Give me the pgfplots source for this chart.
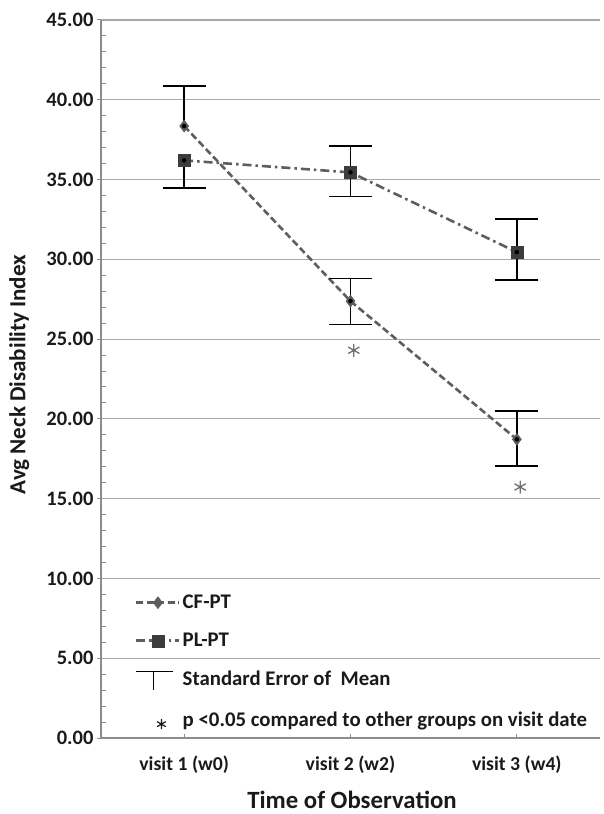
\documentclass[border=0pt]{standalone}
\usepackage{pgfplots}
\pgfplotsset{compat=1.18}
\usepackage{fontspec}
\setmainfont{Carlito}
\definecolor{linegray}{HTML}{5E5E5E}
\definecolor{markgray}{HTML}{5C5C5C}
\definecolor{sqgray}{HTML}{3C3C3C}
\definecolor{gridgray}{HTML}{A8A8A8}
\definecolor{axisgray}{HTML}{8C8C8C}
\definecolor{stargray}{HTML}{707070}
\definecolor{textblack}{HTML}{1A1A1A}
\begin{document}
\begin{tikzpicture}
\useasboundingbox (-101bp,-76bp) rectangle (503bp,738bp);
\begin{axis}[
  at={(0,0)}, anchor=south west,
  scale only axis, width=499bp, height=718bp,
  xmin=-0.5, xmax=2.5, ymin=0, ymax=45,
  xtick={0,1,2},
  xticklabels={visit 1 (w0), visit 2 (w2), visit 3 (w4)},
  ytick={0,5,10,15,20,25,30,35,40,45},
  yticklabels={0.00,5.00,10.00,15.00,20.00,25.00,30.00,35.00,40.00,45.00},
  minor y tick num=4,
  ymajorgrids, major grid style={gridgray, line width=1.2bp},
  axis lines=left, axis line style={-, axisgray, line width=1.2bp},
  tick style={axisgray, line width=1bp},
  tick align=outside, major tick length=4bp, minor tick length=5bp,
  minor y tick style={xshift=5bp},
  x tick style={yshift=4bp},
  yticklabel style={font=\bfseries\fontsize{20.5bp}{20.5bp}\selectfont, text=textblack},
  xticklabel style={font=\bfseries\fontsize{19.7bp}{19.7bp}\selectfont, text=textblack, anchor=center, yshift=-23bp},
  ylabel={Avg Neck Disability Index},
  ylabel style={font=\bfseries\fontsize{23bp}{23bp}\selectfont, text=textblack, at={(axis description cs:-0.164,0.506)}, anchor=center},
  xlabel={Time of Observation},
  xlabel style={font=\bfseries\fontsize{24.8bp}{24.8bp}\selectfont, text=textblack, at={(axis description cs:0.503,-0.0864)}, anchor=center},
  legend style={at={(axis description cs:0.068,0.202)}, anchor=north west, draw=none, fill=none,
    font=\bfseries\fontsize{20.8bp}{20.8bp}\selectfont, text=textblack, row sep=19bp, inner sep=0pt,
    nodes={inner sep=2bp}},
  legend cell align=left,
  legend image code/.code={\draw[mark repeat=2,mark phase=2,#1] plot coordinates {(0bp,0bp) (21.5bp,0bp) (43bp,0bp)};},
]
% CF-PT
\addplot[linegray, line width=2.6bp, dash pattern=on 7bp off 3.5bp,
  mark=diamond*, mark size=6bp, mark options={solid, fill=markgray, draw=markgray, line width=0.5bp}]
  coordinates {(0,38.35) (1,27.38) (2,18.72)};
\addlegendentry{CF-PT}
% PL-PT
\addplot[linegray, line width=2.6bp, dash pattern=on 9bp off 4bp on 2.5bp off 4bp,
  mark=square*, mark size=6bp, mark options={solid, fill=sqgray, draw=sqgray, line width=0.5bp}]
  coordinates {(0,36.20) (1,35.45) (2,30.45)};
\addlegendentry{PL-PT}
% error bars (standard error of mean)
\addplot[forget plot, only marks, mark=none, black,
  error bars/.cd, y dir=both, y explicit,
  error bar style={draw=black, solid, line width=1.6bp},
  error mark options={rotate=90, draw=black, solid, line width=1.6bp, mark size=21.5bp}]
  coordinates {(1,27.38) += (0,1.42) -= (0,1.46)
               (2,18.72) += (0,1.78) -= (0,1.68)
               (1,35.45) += (0,1.65) -= (0,1.51)
               (2,30.45) += (0,2.07) -= (0,1.75)};
\addplot[forget plot, only marks, mark=none, black,
  error bars/.cd, y dir=plus, y explicit,
  error bar style={draw=black, solid, line width=1.6bp},
  error mark options={rotate=90, draw=black, solid, line width=1.6bp, mark size=21.5bp}]
  coordinates {(0,38.35) += (0,2.50) -= (0,0)};
\addplot[forget plot, only marks, mark=none, black,
  error bars/.cd, y dir=minus, y explicit,
  error bar style={draw=black, solid, line width=1.6bp},
  error mark options={rotate=90, draw=black, solid, line width=1.6bp, mark size=21.5bp}]
  coordinates {(0,36.20) += (0,0) -= (0,1.74)};
% significance asterisks
\addplot[forget plot, only marks, mark=asterisk, mark size=6.5bp, stargray, line width=1.3bp]
  coordinates {(1.02,24.30) (2.02,15.73)};
\addlegendimage{legend image code/.code={\draw[black,line width=1.6bp] (0bp,8bp) -- (37bp,8bp) (17bp,8bp) -- (17bp,-11bp);}}
\addlegendentry{Standard Error of\ \ Mean}
\addlegendimage{legend image code/.code={\draw[textblack,line width=1.2bp] plot[mark=asterisk, mark size=5bp] coordinates {(25bp,-4bp)};}}
\addlegendentry{p <0.05 compared to other groups on visit date}
\end{axis}
\end{tikzpicture}
\end{document}
